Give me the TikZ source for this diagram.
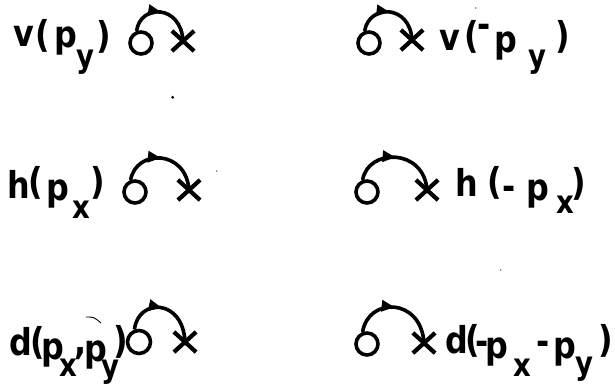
\documentclass[tikz,border=0pt]{standalone}
\usepackage{fontspec}
\newfontfamily\lfont{DejaVu Sans}[FakeStretch=0.86]
\usetikzlibrary{arrows.meta,decorations.markings,shapes.misc}
\tikzset{
  gl/.style={anchor=base,inner sep=0pt,font=\lfont\bfseries\fontsize{37}{37}\selectfont},
  gs/.style={anchor=base,inner sep=0pt,font=\lfont\bfseries\fontsize{32}{32}\selectfont},
  site/.style={circle,draw,line width=3.6pt,minimum size=22pt,inner sep=0pt},
  cross/.style={cross out,draw,line width=4.2pt,minimum width=18pt,minimum height=16pt,inner sep=0pt},
  hop/.style={line width=3.6pt,postaction={decorate},decoration={markings,
     mark=at position 0.47 with {\arrow{Triangle[length=13pt,width=11pt]}}}},
  speck/.style={fill=black!60,draw=none}
}
\begin{document}
\begin{tikzpicture}[x=1pt,y=-1pt]
\useasboundingbox (0,0) rectangle (615,386);
% ---- row 1 left: v(p_y)
\foreach \x/\y/\c [count=\i] in {24/46/v,42.5/47/{(},66/47/p,104/48/{)}}
  \node[gl] (a\i) at (\x,\y) {\c};
\node[gs] (as) at (85,67) {y};
\node[site] (c1) at (141,43) {};
\node[cross] (x1) at (183,41) {};
\draw[hop] (c1.110) .. controls (140,4) and (181,4) .. (x1.center);
% ---- row 1 right: v(-p_y)
\foreach \x/\y/\c [count=\i] in {449.5/50/v,471.5/48/{(},484/37/-,506/52/p,563/48/{)}}
  \node[gl] (b\i) at (\x,\y) {\c};
\node[gs] (bs) at (537,67) {y};
\node[site] (c2) at (369,43) {};
\node[cross] (x2) at (412,40) {};
\draw[hop] (c2.110) .. controls (369,4) and (410,4) .. (x2.center);
% ---- row 2 left: h(p_x)
\foreach \x/\y/\c [count=\i] in {19/198/h,36/194/{(},58/200/p,97.5/194/{)}}
  \node[gl] (d\i) at (\x,\y) {\c};
\node[gs] (ds) at (81,218) {x};
\node[site] (c3) at (135,192) {};
\node[cross] (x3) at (189,190) {};
\draw[hop] (c3.110) .. controls (136,149) and (186,149) .. (x3.center);
% ---- row 2 right: h(-p_x)
\foreach \x/\y/\c [count=\i] in {466.5/196/h,495/194/{(},509/199/-,538/200/p,579/195/{)}}
  \node[gl] (e\i) at (\x,\y) {\c};
\node[gs] (es) at (565,213) {x};
\node[site] (c4) at (367,192) {};
\node[cross] (x4) at (427,190) {};
\draw[hop] (c4.110) .. controls (368,148) and (424,148) .. (x4.center);
% ---- row 3 left: d(p_x,p_y)
\foreach \x/\y/\c [count=\i] in {21/355/d,38/354/{(},53/359/p,81/354/{,},96/361/p,121/353/{)}}
  \node[gl] (f\i) at (\x,\y) {\c};
\node[gs] (fs1) at (68,376) {x};
\node[gs] (fs2) at (110,377) {y};
\node[site,minimum size=23pt] (c5) at (139,342) {};
\node[cross] (x5) at (185,342) {};
\draw[hop] (c5.110) .. controls (138,298) and (183,298) .. (x5.center);
% ---- row 3 right: d(-p_x-p_y)
\foreach \x/\y/\c [count=\i] in {457/353/d,473/352/{(},482/354/-,497/358/p,543.5/354/-,565/358/p,606/352/{)}}
  \node[gl] (g\i) at (\x,\y) {\c};
\node[gs] (gs1) at (522,376) {x};
\node[gs] (gs2) at (584,374) {y};
\node[site] (c6) at (367,344) {};
\node[cross] (x6) at (424,343) {};
\draw[hop] (c6.110) .. controls (368,297) and (421,297) .. (x6.center);
% ---- specks of the scan
\fill (172.7,97.3) circle (1.6);
\fill[speck] (216.7,171) circle (0.8);
\fill[speck] (475.7,8) circle (0.8);
\fill[speck] (500.7,270) circle (0.8);
\draw[line width=0.9pt] (86,317) .. controls (94,317) .. (101,323);
\end{tikzpicture}
\end{document}
